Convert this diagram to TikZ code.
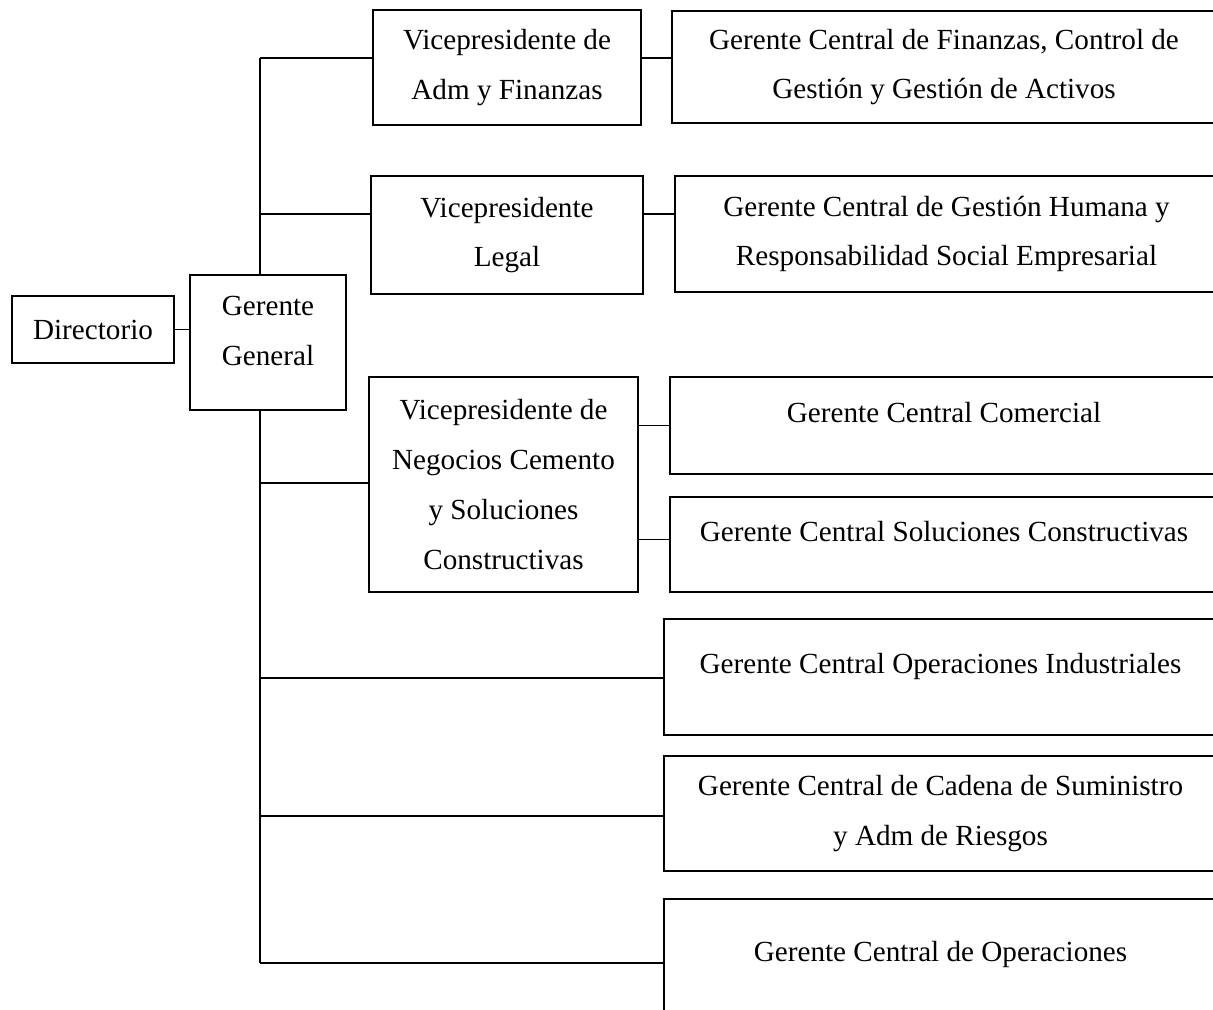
\documentclass[tikz,border=0pt]{standalone}
\usepackage{fontspec}
\setmainfont{Liberation Serif}
\usepackage{tikz}
\usetikzlibrary{positioning,calc}

\begin{document}
\begin{tikzpicture}[
  x=0.02cm, y=-0.02cm,
  box/.style={draw, line width=1pt, fill=white, inner sep=0pt, align=center,
    font=\fontsize{16.6}{28.35}\selectfont},
  lift/.style={text depth=#1},
  conn/.style={line width=1pt},
]
\useasboundingbox (0,0) rectangle (1213,1009);
\clip (0,0) rectangle (1213,1009);

% left part
\node[box, minimum width=3.24cm, minimum height=1.34cm] (dir) at (93,329.5) {Directorio};
\node[box, minimum width=3.12cm, minimum height=2.70cm, lift=13pt] (gg) at (268,342.5) {Gerente\\General};

% vice presidents
\node[box, minimum width=5.36cm, minimum height=2.30cm] (vpadm) at (507,67.5)
  {Vicepresidente de\\Adm y Finanzas};
\node[box, minimum width=5.44cm, minimum height=2.36cm] (vpleg) at (507,235)
  {Vicepresidente\\Legal};
\node[box, minimum width=5.38cm, minimum height=4.30cm] (vpneg) at (503.5,484.5)
  {Vicepresidente de\\Negocios Cemento\\y Soluciones\\Constructivas};

% central managers
\node[box, minimum width=10.88cm, minimum height=2.24cm] (gcfin) at (944,67)
  {Gerente Central de Finanzas, Control de\\Gesti\'on y Gesti\'on de Activos};
\node[box, minimum width=10.86cm, minimum height=2.32cm] (gcgh) at (946.5,234)
  {Gerente Central de Gesti\'on Humana y\\Responsabilidad Social Empresarial};
\node[box, minimum width=10.96cm, minimum height=1.94cm, lift=15pt] (gccom) at (944,425.5)
  {Gerente Central Comercial};
\node[box, minimum width=10.96cm, minimum height=1.90cm, lift=15pt] (gcsol) at (944,544.5)
  {Gerente Central Soluciones Constructivas};
\node[box, minimum width=11.06cm, minimum height=2.32cm, lift=15pt] (gcind) at (940.5,677)
  {Gerente Central Operaciones Industriales};
\node[box, minimum width=11.06cm, minimum height=2.30cm] (gccad) at (940.5,813.5)
  {Gerente Central de Cadena de Suministro\\y Adm de Riesgos};
\node[box, minimum width=11.06cm, minimum height=2.62cm, lift=15pt] (gcop) at (940.5,964.5)
  {Gerente Central de Operaciones};

% trunk
\coordinate (tTop) at (260,58);
\coordinate (tLeg) at (260,214);
\coordinate (tNeg) at (260,483);
\coordinate (tInd) at (260,678);
\coordinate (tCad) at (260,816);
\coordinate (tOp) at (260,963);

\draw[conn] (dir.east) -- (dir.east -| gg.west);
\draw[conn] (tTop) -- (tTop |- gg.north);
\draw[conn] (tTop |- gg.south) -- (tOp);

\draw[conn] (tTop) -- (tTop -| vpadm.west);
\draw[conn] (tLeg) -- (tLeg -| vpleg.west);
\draw[conn] (tNeg) -- (tNeg -| vpneg.west);
\draw[conn] (tInd) -- (tInd -| gcind.west);
\draw[conn] (tCad) -- (tCad -| gccad.west);
\draw[conn] (tOp) -- (tOp -| gcop.west);

\draw[conn] (tTop -| vpadm.east) -- (tTop -| gcfin.west);
\draw[conn] (tLeg -| vpleg.east) -- (tLeg -| gcgh.west);
\draw[conn] (gccom.west -| vpneg.east) -- (gccom.west);
\draw[conn] ($(gcsol.west -| vpneg.east)+(0,-5)$) -- ($(gcsol.west)+(0,-5)$);
\end{tikzpicture}
\end{document}
